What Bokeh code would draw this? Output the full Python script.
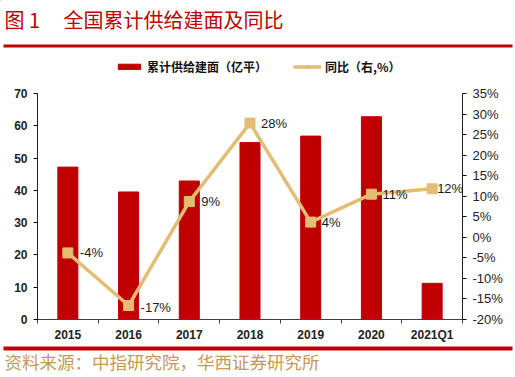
from bokeh.plotting import figure
from bokeh.layouts import column
from bokeh.models import (Range1d, LinearAxis, FixedTicker, Legend, LegendItem,
                          ColumnDataSource, PrintfTickFormatter)
from bokeh.core.properties import value
from bokeh.embed import file_html
from bokeh.resources import INLINE

categories = ["2015", "2016", "2017", "2018", "2019", "2020", "2021Q1"]
area = [47.2, 39.5, 42.9, 54.8, 56.8, 62.8, 11.2]          # 亿平
yoy = [-3.8, -16.6, 8.7, 27.8, 3.7, 10.5, 11.8]             # %
yoy_labels = ["-4%", "-17%", "9%", "28%", "4%", "11%", "12%"]
label_dx = [12, 12, 12, 11, 11, 11, 5]
label_dy = [0, 2, 0, 0, 0, 0, 0]

title_num = "图 1"
title_text = "全国累计供给建面及同比"
bar_name = "累计供给建面（亿平）"
line_name = "同比（右,%）"
source_text = "资料来源：中指研究院，华西证券研究所"

RED = "#C00000"
TAN = "#E2BD73"
FONT = "Liberation Sans"
CJK = "Noto Sans CJK SC"
W = 515


def blank(h):
    f = figure(width=W, height=h, output_backend="svg", toolbar_location=None,
               title=None, x_range=Range1d(0, W), y_range=Range1d(h, 0),
               x_axis_location=None, y_axis_location=None,
               min_border=0, min_border_left=0, min_border_right=0,
               min_border_top=0, min_border_bottom=0, frame_align=False)
    f.outline_line_color = None
    f.grid.visible = False
    return f


# ---------------- header: title, rule, legend ----------------
top = blank(80)
top.text(x=[4], y=[19], text=[title_num], text_font=value(CJK), text_font_size="20px",
         text_color=RED, text_baseline="middle")
top.text(x=[63], y=[19], text=[title_text], text_font=value(CJK), text_font_size="20px",
         text_color=RED, text_baseline="middle")
top.quad(left=[3], right=[512], top=[44], bottom=[47], fill_color=RED, line_color=None)

# legend-only renderers (one point placed far outside the visible range)
dummy = ColumnDataSource(dict(x=[-1000], y=[-1000]))
lg_bar = top.vbar(x="x", top="y", width=1, color=RED, source=dummy)
lg_line = top.line(x="x", y="y", line_color=TAN, line_width=3.5, source=dummy)
lg_mk = top.scatter(x="x", y="y", marker="square", size=8, fill_color=TAN,
                    line_color=TAN, source=dummy)
legend = Legend(items=[LegendItem(label=bar_name, renderers=[lg_bar]),
                       LegendItem(label=line_name, renderers=[lg_line, lg_mk])],
                orientation="horizontal", location=(115, 5),
                label_text_font=CJK, label_text_font_style="bold",
                label_text_font_size="12px", label_text_color="#111111",
                glyph_width=28, glyph_height=7, label_standoff=4, spacing=26,
                padding=0, margin=0, border_line_color=None,
                background_fill_alpha=0)
top.add_layout(legend, "center")

# ---------------- main chart ----------------
xs = list(range(len(categories)))
src = ColumnDataSource(dict(x=xs, area=area, yoy=yoy, lab=yoy_labels,
                            dx=label_dx, dy=label_dy))

p = figure(width=W, height=264, output_backend="svg", toolbar_location=None, title=None,
           x_range=Range1d(-0.5, len(categories) - 0.5), y_range=Range1d(0, 70),
           min_border_left=37, min_border_right=53, min_border_top=13,
           min_border_bottom=24, frame_align=False)
p.extra_y_ranges = {"pct": Range1d(-20, 35)}
p.outline_line_color = None
p.grid.visible = False

p.vbar(x="x", top="area", width=0.33, color=RED, source=src)
p.line(x="x", y="yoy", y_range_name="pct", line_color=TAN, line_width=3.5, source=src)
p.scatter(x="x", y="yoy", y_range_name="pct", marker="square", size=10,
          fill_color=TAN, line_color=TAN, source=src)
p.text(x="x", y="yoy", text="lab", y_range_name="pct", source=src,
       x_offset="dx", y_offset="dy", text_baseline="middle", text_align="left",
       text_font_size="13px", text_font=value(FONT), text_color="#1a1a1a")

xa = p.xaxis[0]
xa.ticker = FixedTicker(ticks=xs, minor_ticks=[i - 0.5 for i in range(len(categories) + 1)])
xa.major_label_overrides = {i: c for i, c in enumerate(categories)}
xa.major_tick_out = 0
xa.major_tick_in = 0
xa.minor_tick_out = 4
xa.minor_tick_in = 0
xa.axis_line_color = "#404040"
xa.minor_tick_line_color = "#404040"
xa.major_label_text_font = FONT
xa.major_label_text_font_style = "bold"
xa.major_label_text_font_size = "12px"
xa.major_label_text_color = "#222222"
xa.major_label_standoff = 4

ya = p.yaxis[0]
ya.ticker = FixedTicker(ticks=list(range(0, 71, 10)))
ya.major_tick_out = 4
ya.major_tick_in = 0
ya.minor_tick_line_color = None
ya.axis_line_color = "#202020"
ya.major_label_text_font = FONT
ya.major_label_text_font_style = "bold"
ya.major_label_text_font_size = "12px"
ya.major_label_text_color = "#222222"
ya.major_label_standoff = 6

ra = LinearAxis(y_range_name="pct", ticker=FixedTicker(ticks=list(range(-20, 36, 5))),
                formatter=PrintfTickFormatter(format="%d%%"))
ra.major_tick_out = 4
ra.major_tick_in = 0
ra.minor_tick_line_color = None
ra.axis_line_color = "#202020"
ra.major_label_text_font = FONT
ra.major_label_text_font_size = "13px"
ra.major_label_text_color = "#222222"
ra.major_label_standoff = 6
p.add_layout(ra, "right")

# ---------------- footer: rule and source ----------------
bot = blank(33)
bot.quad(left=[3], right=[512], top=[2], bottom=[6], fill_color=RED, line_color=None)
bot.text(x=[4], y=[17], text=[source_text], text_font=value(CJK), text_font_size="17.5px",
         text_color="#C49A55", text_baseline="middle")

layout = column(top, p, bot, spacing=0)
open("out.html", "w").write(file_html(layout, INLINE))
